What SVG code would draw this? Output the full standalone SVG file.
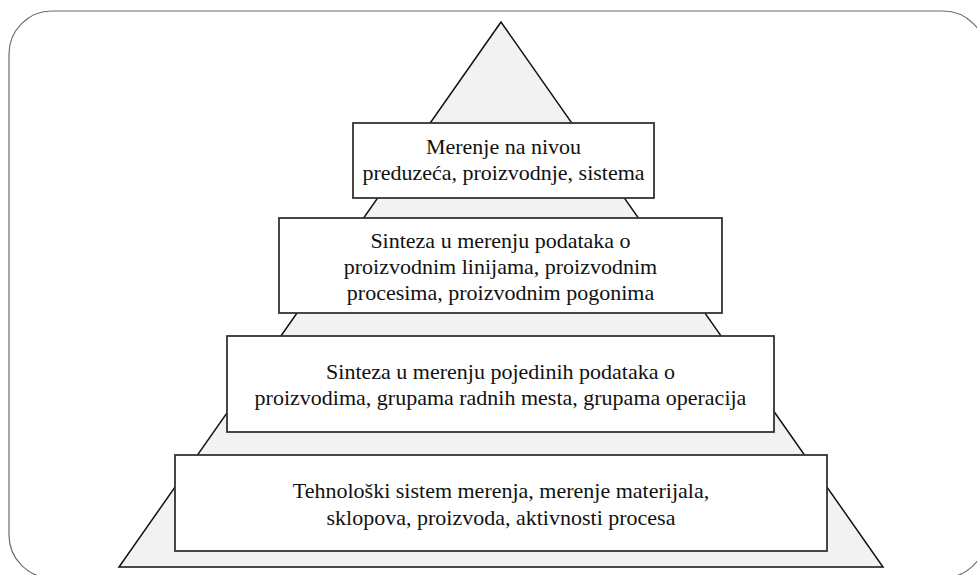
<svg xmlns="http://www.w3.org/2000/svg" width="977" height="575" viewBox="0 0 977 575">
  <style>
    .frame { fill: #ffffff; stroke: #6b6b6b; stroke-width: 1.2; }
    .pyramid { fill: #f2f2f2; stroke: #111111; stroke-width: 1.5; }
    .box { fill: #ffffff; stroke: #333333; stroke-width: 1.8; }
    .label { font-size: 22px; fill: #111111; text-anchor: middle; }
  </style>
  <rect width="977" height="575" fill="#ffffff"/>
  <!-- outer rounded frame -->
  <rect class="frame" x="9" y="11" width="977" height="567" rx="43" ry="43"/>
  <!-- pyramid background -->
  <polygon id="pyramid" class="pyramid" points="501,22 119,567 883,567"/>

  <g font-family="'Liberation Serif', 'DejaVu Serif', serif">
  <g id="level4">
    <rect class="box" x="175" y="455" width="652" height="96"/>
    <text class="label" x="501" y="498">Tehnološki sistem merenja, merenje materijala,</text>
    <text class="label" x="501" y="525">sklopova, proizvoda, aktivnosti procesa</text>
  </g>

  <g id="level3">
    <rect class="box" x="227" y="336" width="547" height="96"/>
    <text class="label" x="500.5" y="379">Sinteza u merenju pojedinih podataka o</text>
    <text class="label" x="500.5" y="405">proizvodima, grupama radnih mesta, grupama operacija</text>
  </g>

  <g id="level2">
    <rect class="box" x="279" y="218" width="443" height="95"/>
    <text class="label" x="500.5" y="248">Sinteza u merenju podataka o</text>
    <text class="label" x="500.5" y="274">proizvodnim linijama, proizvodnim</text>
    <text class="label" x="500.5" y="300">procesima, proizvodnim pogonima</text>
  </g>

  <g id="level1">
    <rect class="box" x="353" y="123" width="301" height="75"/>
    <text class="label" x="503.5" y="154">Merenje na nivou</text>
    <text class="label" x="503.5" y="180">preduzeća, proizvodnje, sistema</text>
  </g>
  </g>

  <g id="connectors"/>
</svg>
